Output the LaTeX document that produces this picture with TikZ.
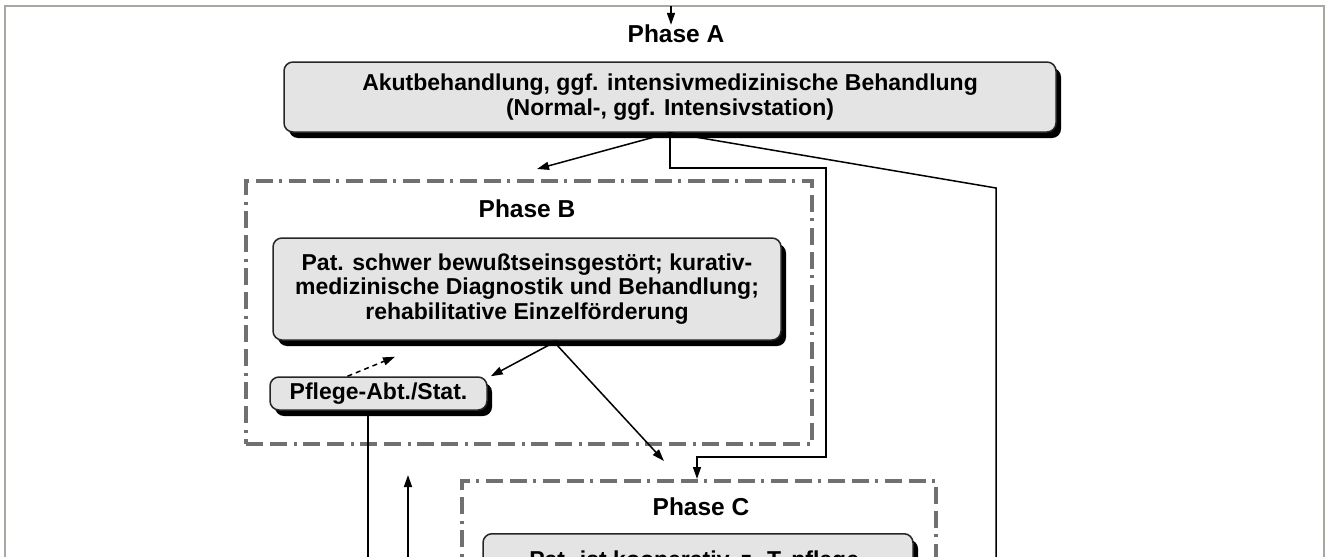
\documentclass[tikz,border=0pt]{standalone}
\usepackage{fontspec}
\setmainfont{Liberation Sans}
\usepackage{tikz}
\usetikzlibrary{shapes, arrows.meta, positioning, calc, shadows}
\definecolor{boxgray}{HTML}{E4E4E4}
\definecolor{dashgray}{HTML}{707070}
\definecolor{rimgray}{HTML}{A8A8A0}
\tikzset{
    phasebox/.style={rectangle, rounded corners=9pt, draw=black!85, line width=1.5pt, fill=boxgray, align=center, inner sep=0pt,
        font=\bfseries\fontsize{23}{24.5}\selectfont,
        drop shadow={shadow xshift=5pt, shadow yshift=-6pt, fill=black, opacity=1}},
    phaselabel/.style={font=\bfseries\fontsize{24.5}{26}\selectfont, inner sep=0pt},
    phaseframe/.style={rectangle, draw=dashgray, line width=4pt, dash pattern=on 17pt off 7pt on 17pt off 7pt on 3pt off 6pt},
    arrow/.style={-{Triangle[length=12pt, width=8pt]}, line width=1.5pt},
    dasharrow/.style={arrow, dash pattern=on 5pt off 4pt},
    line/.style={line width=1.5pt}
}

\begin{document}
\begin{tikzpicture}[x=1pt, y=-1pt]
    \useasboundingbox (0,0) rectangle (1326,557);
    \clip (0,0) rectangle (1326,557);
    \draw[rimgray, line width=2pt] (5,600) -- (5,6) -- (1324,6) -- (1324,600);

    % Phase A
    \node[phaselabel] (phA) at (676,34) {Phase A};
    \node[phasebox, minimum width=772pt, minimum height=70pt] (akut) at (670,97)
        {Akutbehandlung, ggf. intensivmedizinische Behandlung\\(Normal-, ggf. Intensivstation)};
    \coordinate (topin) at (671,6);
    \draw[arrow] (topin) -- (topin |- phA.north);

    % Phase B
    \node[phaseframe, minimum width=566pt, minimum height=263pt] (frameB) at (529,312.5) {};
    \node[phaselabel] (phB) at (527,209) {Phase B};
    \node[phasebox, minimum width=508pt, minimum height=102pt] (schwer) at (527,289)
        {Pat. schwer bewußtseinsgestört; kurativ-\\medizinische Diagnostik und Behandlung;\\rehabilitative Einzelförderung};
    \node[phasebox, minimum width=217pt, minimum height=33pt] (pflege) at (378.5,393.5) {Pflege-Abt./Stat.};

    % Phase C
    \node[phaseframe, minimum width=474pt, minimum height=200pt] (frameC) at (699,581) {};
    \node[phaselabel] (phC) at (701,507) {Phase C};
    \node[phasebox, anchor=north, minimum width=430pt, text height=34pt, text depth=60pt] (kooperativ) at (698,533)
        {Pat. ist kooperativ, z. T. pflege-};

    % Verbindungen
    \coordinate (ctop) at (826,168);
    \coordinate (cbot) at (697,457);
    \coordinate (rtop) at (996,188);
    \coordinate (rbot) at (996,570);
    \draw[arrow] (akut.south) -- ($(frameB.north)+(8,-10)$);
    \draw[arrow] (akut.south) |- (ctop) |- (cbot) -- (cbot |- frameC.north);
    \draw[line] (akut.south) -- (rtop) -- (rbot);

    \draw[dasharrow] ($(pflege.north)+(-31,0)$) -- ($(schwer.south)+(-132,16)$);
    \draw[arrow] ($(schwer.south)+(30,0)$) -- ($(pflege.north east)+(3,0)$);
    \draw[arrow] ($(schwer.south)+(26,0)$) -- ($(frameC.north)+(-35,-18)$);

    \coordinate (pbot) at (368,570);
    \coordinate (upbot) at (408,570);
    \draw[line] ($(pflege.south)+(-10.5,0)$) -- (pbot);
    \draw[arrow] (upbot) -- (upbot |- 0,475);
\end{tikzpicture}
\end{document}
